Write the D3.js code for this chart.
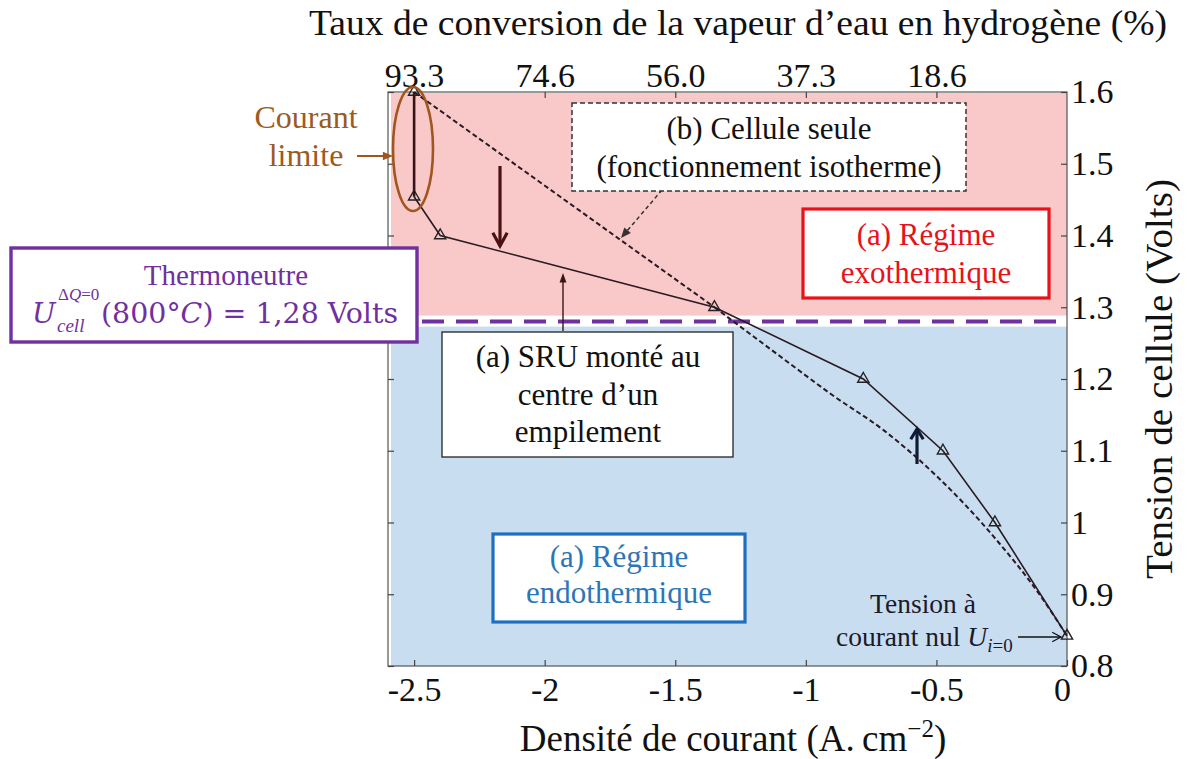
<!DOCTYPE html>
<html>
<head>
<meta charset="utf-8">
<script src="https://cdn.jsdelivr.net/npm/d3@7"></script>
<style>
  body { margin: 0; background: #fff; }
</style>
</head>
<body>
<svg id="chart" width="1187" height="759" font-family="'Liberation Serif', 'Times New Roman', serif"></svg>
<script>
// (a) SRU mounted in the centre of a stack: current density (A.cm-2) / cell voltage (V)
const sruCurrent = [-2.5, -2.5, -2.4, -1.35, -0.78, -0.475, -0.276, 0];
const sruVoltage = [1.6, 1.454, 1.4, 1.3, 1.2, 1.1, 1.0, 0.842];
// (b) single cell, isothermal operation
const cellCurrent = [-2.5, -1.35, -1.1, -0.9, -0.7, -0.5, -0.28, -0.1, 0];
const cellVoltage = [1.6, 1.3, 1.232, 1.178, 1.128, 1.065, 0.98, 0.897, 0.842];
// axes
const currentTicks = [-2.5, -2, -1.5, -1, -0.5, 0];
const conversionTicks = [-2.5, -2, -1.5, -1, -0.5];
const conversionLabels = ["93.3", "74.6", "56.0", "37.3", "18.6"];
const voltageTicks = [0.8, 0.9, 1.0, 1.1, 1.2, 1.3, 1.4, 1.5, 1.6];
const thermoneutralVoltage = 1.28;

const svg = d3.select("#chart");
const plotLeft = 388, plotRight = 1067, plotTop = 92, plotBottom = 666;
const x = d3.scaleLinear().domain([-2.6, 0]).range([plotLeft, plotRight]);
const y = d3.scaleLinear().domain([0.8, 1.6]).range([plotBottom, plotTop]);

const PINK = "#f9c9c9", BLUE = "#c9ddf0", PURPLE = "#7030a0";
const SERIF = "'Liberation Serif', 'Times New Roman', serif";
const MATH = "'DejaVu Serif', serif";

// thermal regimes
const yT = y(thermoneutralVoltage);
svg.append("rect").attr("x", plotLeft + 3).attr("y", plotTop + 1)
  .attr("width", plotRight - plotLeft - 3).attr("height", yT - 6 - plotTop - 1).attr("fill", PINK);
svg.append("rect").attr("x", plotLeft + 3).attr("y", yT + 5)
  .attr("width", plotRight - plotLeft - 3).attr("height", plotBottom - yT - 5).attr("fill", BLUE);

// frame
svg.append("rect").attr("x", plotLeft).attr("y", plotTop).attr("width", plotRight - plotLeft)
  .attr("height", plotBottom - plotTop).attr("fill", "none").attr("stroke", "#555").attr("stroke-width", 1.2);

// axes
function styleAxis(g) {
  g.select(".domain").remove();
  g.selectAll(".tick line").attr("stroke", "#444").attr("stroke-width", 1.2);
  g.selectAll(".tick text").attr("fill", "#111").attr("font-size", 34).attr("font-family", SERIF);
}
const xAxisG = svg.append("g").attr("transform", `translate(0,${plotBottom})`)
  .call(d3.axisBottom(x).tickValues(currentTicks).tickSizeInner(-6).tickSizeOuter(0)
    .tickPadding(11).tickFormat(d => String(d)))
  .call(styleAxis);
// keep the "0" clear of the 0.8 label of the voltage axis
xAxisG.selectAll(".tick text").filter(d => d === 0).attr("dx", -5);
svg.append("g").attr("transform", `translate(0,${plotTop})`)
  .call(d3.axisTop(x).tickValues(conversionTicks).tickSizeInner(-6).tickSizeOuter(0)
    .tickPadding(5).tickFormat((d, i) => conversionLabels[i]))
  .call(styleAxis);
svg.append("g").attr("transform", `translate(${plotRight},0)`)
  .call(d3.axisRight(y).tickValues(voltageTicks).tickSizeInner(-6).tickSizeOuter(0)
    .tickPadding(4).tickFormat(d => String(+d.toFixed(1))))
  .call(styleAxis);
svg.append("g").attr("transform", `translate(${plotLeft},0)`)
  .call(d3.axisLeft(y).tickValues(voltageTicks).tickSizeInner(-6).tickSizeOuter(0)
    .tickFormat(""))
  .call(styleAxis);

// axis titles
svg.append("text").attr("x", 738).attr("y", 35).attr("text-anchor", "middle")
  .attr("font-size", 36).attr("fill", "#111")
  .attr("textLength", 858).attr("lengthAdjust", "spacingAndGlyphs")
  .text("Taux de conversion de la vapeur d\u2019eau en hydrog\u00e8ne (%)");
const xt = svg.append("text").attr("x", 733).attr("y", 751).attr("text-anchor", "middle")
  .attr("font-size", 37).attr("fill", "#111");
xt.append("tspan").text("Densit\u00e9 de courant (A.\u2009cm");
xt.append("tspan").attr("dy", -14).attr("font-size", 25).text("\u22122");
xt.append("tspan").attr("dy", 14).text(")");
svg.append("text").attr("transform", "translate(1172,379) rotate(-90)")
  .attr("text-anchor", "middle").attr("font-size", 37).attr("fill", "#111")
  .attr("textLength", 400).attr("lengthAdjust", "spacingAndGlyphs")
  .text("Tension de cellule (Volts)");

// thermoneutral voltage line
svg.append("line").attr("x1", plotLeft).attr("x2", plotRight).attr("y1", yT).attr("y2", yT)
  .attr("stroke", PURPLE).attr("stroke-width", 4).attr("stroke-dasharray", "22,12");

// curves
const straight = d3.line().x(d => x(d[0])).y(d => y(d[1]));
const smooth = d3.line().x(d => x(d[0])).y(d => y(d[1])).curve(d3.curveMonotoneX);
const cellPts = cellCurrent.map((c, i) => [c, cellVoltage[i]]);
const sruPts = sruCurrent.map((c, i) => [c, sruVoltage[i]]);
const cellStyle = p => p.attr("fill", "none").attr("stroke", "#2a1a22")
  .attr("stroke-width", 2).attr("stroke-dasharray", "5,3");
svg.append("path").datum(cellPts.slice(0, 2)).attr("d", straight).call(cellStyle);
svg.append("path").datum(cellPts.slice(1)).attr("d", smooth).call(cellStyle);
svg.append("path").datum(sruPts.slice(0, 2)).attr("d", straight).attr("fill", "none")
  .attr("stroke", "#3a1216").attr("stroke-width", 2.6);
svg.append("path").datum(sruPts.slice(1)).attr("d", straight).attr("fill", "none")
  .attr("stroke", "#2a1a22").attr("stroke-width", 1.6);
svg.selectAll("path.tri").data(sruPts).join("path").attr("class", "tri")
  .attr("transform", d => `translate(${x(d[0])},${y(d[1])})`)
  .attr("d", d3.symbol(d3.symbolTriangle, 55))
  .attr("fill", "none").attr("stroke", "#222").attr("stroke-width", 1.4);

// arrows
function arrow(x1, y1, x2, y2, o) {
  const g = svg.append("g");
  const a = Math.atan2(y2 - y1, x2 - x1), h = o.head, w = o.spread || 0.45;
  const p1 = [x2 - h * Math.cos(a - w), y2 - h * Math.sin(a - w)];
  const p2 = [x2 - h * Math.cos(a + w), y2 - h * Math.sin(a + w)];
  const shaftEnd = o.filled ? [x2 - h * 0.8 * Math.cos(a), y2 - h * 0.8 * Math.sin(a)] : [x2, y2];
  g.append("line").attr("x1", x1).attr("y1", y1).attr("x2", shaftEnd[0]).attr("y2", shaftEnd[1])
    .attr("stroke", o.color).attr("stroke-width", o.width)
    .attr("stroke-dasharray", o.dash || null);
  if (o.filled) {
    g.append("path").attr("d", `M${x2},${y2}L${p1}L${p2}Z`).attr("fill", o.color);
  } else {
    g.append("path").attr("d", `M${p1}L${x2},${y2}L${p2}`).attr("fill", "none")
      .attr("stroke", o.color).attr("stroke-width", o.width).attr("stroke-linejoin", "miter");
  }
}
arrow(500, 166, 500, 246, { color: "#4a1012", width: 3.2, head: 15, spread: 0.5 });
arrow(917, 464, 917, 429, { color: "#0e1b33", width: 3.2, head: 12, spread: 0.55 });
arrow(662, 190, 621, 238, { color: "#333", width: 1.5, head: 11, dash: "4,3", filled: true, spread: 0.4 });
arrow(563, 331, 563, 273, { color: "#3a1515", width: 1.4, head: 10, filled: true, spread: 0.35 });
arrow(357, 156, 393, 156, { color: "#a0561e", width: 2, head: 11, filled: true, spread: 0.4 });
arrow(1018, 637, 1061, 637, { color: "#111", width: 1.3, head: 10, spread: 0.5 });

// limiting current ellipse
svg.append("ellipse").attr("cx", 413).attr("cy", 149).attr("rx", 20).attr("ry", 62)
  .attr("fill", "none").attr("stroke", "#a0561e").attr("stroke-width", 2.6);

// annotation boxes
function box(x0, y0, w, h, stroke, sw, dash) {
  svg.append("rect").attr("x", x0).attr("y", y0).attr("width", w).attr("height", h)
    .attr("fill", "#fff").attr("stroke", stroke).attr("stroke-width", sw)
    .attr("stroke-dasharray", dash || null);
}
function lines(cx, baselines, texts, color, size) {
  texts.forEach((t, i) => svg.append("text").attr("x", cx).attr("y", baselines[i])
    .attr("text-anchor", "middle").attr("font-size", size || 31).attr("fill", color).text(t));
}

box(572, 103, 394, 88, "#333", 1.5, "5,3");
lines(769, [139, 177], ["(b) Cellule seule", "(fonctionnement isotherme)"], "#111");

box(803, 209, 246, 89, "#e8121a", 3.2);
lines(926, [245, 283], ["(a) R\u00e9gime", "exothermique"], "#e8121a");

box(442, 332, 291, 125, "#222", 1.3);
lines(588, [367, 405, 442], ["(a) SRU mont\u00e9 au", "centre d\u2019un", "empilement"], "#111");

box(493, 534, 252, 88, "#1f6fbf", 3.2);
lines(619, [567, 603], ["(a) R\u00e9gime", "endothermique"], "#2e75b6");

box(11, 248, 406, 94, PURPLE, 3.4);
lines(226, [285], ["Thermoneutre"], PURPLE, 29);
// U_cell^{ΔQ=0}(800°C) = 1,28 Volts
const eq = svg.append("g").attr("fill", PURPLE);
eq.append("text").attr("x", 32).attr("y", 323).attr("font-size", 28).attr("font-family", MATH)
  .attr("font-style", "italic").text("U");
const sup = eq.append("text").attr("x", 58).attr("y", 300).attr("font-size", 17).attr("font-family", SERIF);
sup.append("tspan").text("\u0394");
sup.append("tspan").attr("font-style", "italic").text("Q");
sup.append("tspan").text("=0");
eq.append("text").attr("x", 57).attr("y", 332).attr("font-size", 19).attr("font-family", SERIF)
  .attr("font-style", "italic").text("cell");
const eqMain = eq.append("text").attr("x", 101).attr("y", 323).attr("font-size", 28)
  .attr("font-family", MATH).attr("textLength", 297).attr("lengthAdjust", "spacingAndGlyphs");
eqMain.append("tspan").text("(800\u00b0");
eqMain.append("tspan").attr("font-style", "italic").text("C");
eqMain.append("tspan").text(") = 1,28 Volts");

// limiting current label
lines(306, [128, 166], ["Courant", "limite"], "#9c5a1e", 32);

// open-circuit voltage label
lines(923, [613], ["Tension \u00e0"], "#1a1a2a", 27.5);
const ocv = svg.append("text").attr("x", 836).attr("y", 646).attr("font-size", 27.5).attr("fill", "#1a1a2a");
ocv.append("tspan").text("courant nul ");
ocv.append("tspan").attr("font-style", "italic").text("U");
ocv.append("tspan").attr("dy", 6).attr("font-size", 19).attr("font-style", "italic").text("i");
ocv.append("tspan").attr("font-size", 19).text("=0");
</script>
</body>
</html>
